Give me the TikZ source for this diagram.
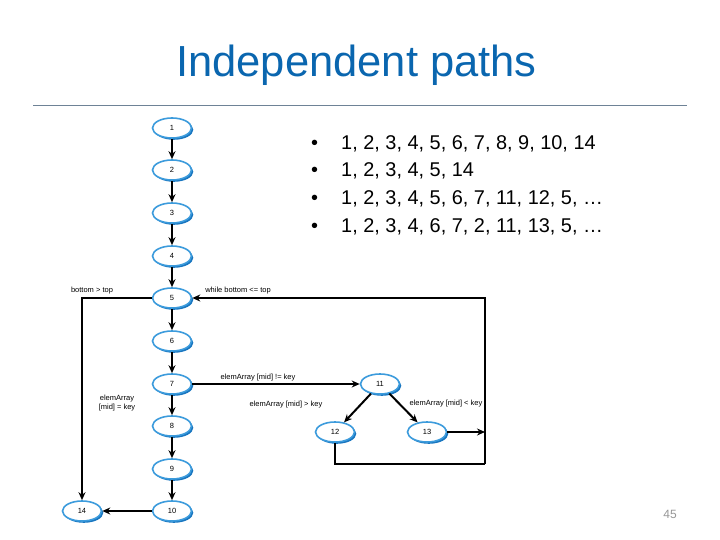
\documentclass[tikz,border=0pt]{standalone}
\usepackage{fontspec}
\setmainfont{Liberation Sans}
\usetikzlibrary{shadows,arrows.meta,shapes.geometric}
\definecolor{titleblue}{RGB}{10,102,175}
\definecolor{nodeblue}{RGB}{60,155,220}
\definecolor{shadeblue}{RGB}{25,118,192}
\definecolor{rulegray}{RGB}{110,130,150}
\definecolor{pagegray}{RGB}{150,150,150}
\tikzset{
  cfg/.style={ellipse, draw=nodeblue, line width=1.6pt, fill=white,
    minimum width=39pt, minimum height=20pt, inner sep=0pt,
    font=\fontsize{7.5}{9}\selectfont,
    drop shadow={shadow xshift=1.8pt, shadow yshift=-1.8pt, fill=shadeblue, opacity=1}},
  arr/.style={line width=2pt, -{Stealth[length=8pt,width=7pt]}},
  ln/.style={line width=2pt},
  lbl/.style={font=\fontsize{7.5}{9}\selectfont, inner sep=0pt, align=center},
  bul/.style={font=\fontsize{19.9}{24}\selectfont, anchor=base west, inner sep=0pt}
}
\begin{document}
\begin{tikzpicture}[x=1pt,y=-1pt]
\useasboundingbox (0,0) rectangle (720,540);
% title
\node[font=\fontsize{43.5}{50}\selectfont, text=titleblue, anchor=base, inner sep=0pt] (title) at (356.5,77) {Independent paths};
\draw[rulegray, line width=1pt] (33,106) -- (687,106);
% bullets
\foreach \yy/\txt [count=\i] in {150/{1, 2, 3, 4, 5, 6, 7, 8, 9, 10, 14},
  177/{1, 2, 3, 4, 5, 14},
  205/{1, 2, 3, 4, 5, 6, 7, 11, 12, 5, \dots},
  233/{1, 2, 3, 4, 6, 7, 2, 11, 13, 5, \dots}}{
  \node[bul] (b\i) at (311,\yy) {•};
  \node[bul] (t\i) at (341,\yy) {\txt};
}
% nodes
\node[cfg] (n1) at (172,128) {1};
\node[cfg] (n2) at (172,170) {2};
\node[cfg] (n3) at (172,213) {3};
\node[cfg] (n4) at (172,256) {4};
\node[cfg] (n5) at (172,298) {5};
\node[cfg] (n6) at (172,341) {6};
\node[cfg] (n7) at (172,384) {7};
\node[cfg] (n8) at (172,426) {8};
\node[cfg] (n9) at (172,469) {9};
\node[cfg] (n10) at (172,511) {10};
\node[cfg] (n14) at (82,511) {14};
\node[cfg] (n11) at (380,384) {11};
\node[cfg] (n12) at (335,432) {12};
\node[cfg] (n13) at (427,432) {13};
\coordinate (r13) at (485,432);
\coordinate (c12) at (485,464);
% edges
\draw[arr] (n1) -- (n2);
\draw[arr] (n2) -- (n3);
\draw[arr] (n3) -- (n4);
\draw[arr] (n4) -- (n5);
\draw[arr] (n5) -- (n6);
\draw[arr] (n6) -- (n7);
\draw[arr] (n7) -- (n8);
\draw[arr] (n8) -- (n9);
\draw[arr] (n9) -- (n10);
\draw[arr] (n10) -- (n14);
\draw[arr] (n5.west) -| (n14.north);
\draw[arr] (n7.east) -- (n11.west);
\draw[arr] (n11) -- (n12);
\draw[arr] (n11) -- (n13);
\draw[arr] (n13.east) -- (r13);
\draw[ln] (n12.south) |- (c12);
\draw[arr] (c12) |- (n5.east);
% labels
\node[lbl] (l1) at (92,291) {bottom > top};
\node[lbl] (l2) at (238,291) {while bottom <= top};
\node[lbl] (l3) at (258,378) {elemArray [mid] != key};
\node[lbl] (l4) at (286,405) {elemArray [mid] > key};
\node[lbl] (l5) at (446,404) {elemArray [mid] < key};
\node[lbl] (l6) at (117,403) {elemArray\\{}[mid] = key};
% page number
\node[font=\fontsize{12}{14}\selectfont, text=pagegray, anchor=base, inner sep=0pt] (pg) at (670,518) {45};
\end{tikzpicture}
\end{document}
